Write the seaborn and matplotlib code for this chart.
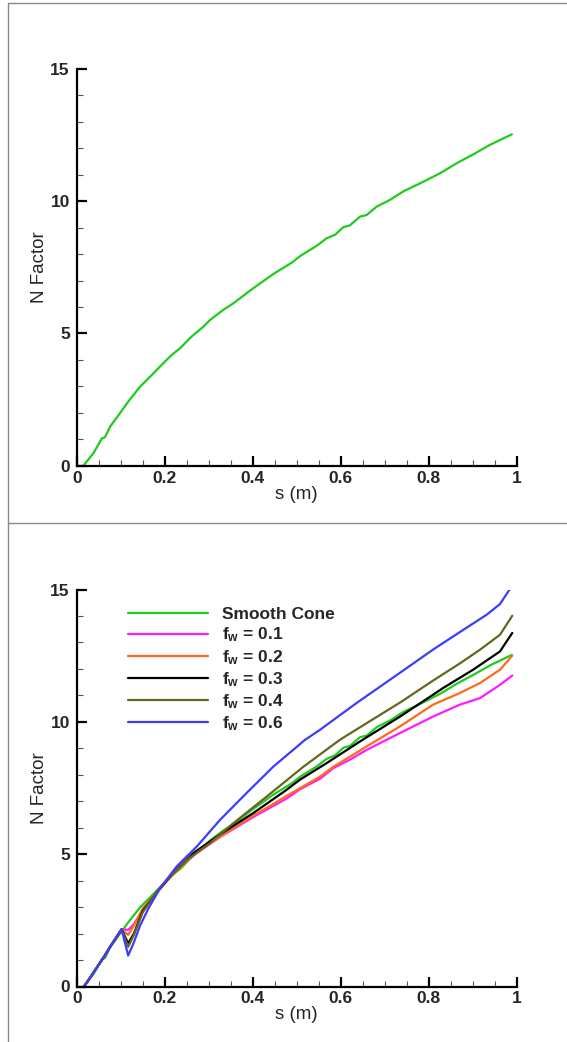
import numpy as np
import pandas as pd
import matplotlib
matplotlib.use("Agg")
import matplotlib.pyplot as plt
from matplotlib.lines import Line2D
from matplotlib.ticker import MultipleLocator
import seaborn as sns

# ---------------- data ----------------
smooth_s = [0.015, 0.038, 0.057, 0.064, 0.076, 0.098, 0.117, 0.144, 0.167, 0.200,
            0.216, 0.235, 0.261, 0.288, 0.303, 0.333, 0.356, 0.398, 0.447, 0.489,
            0.508, 0.545, 0.568, 0.587, 0.606, 0.621, 0.644, 0.659, 0.682, 0.712,
            0.742, 0.788, 0.826, 0.864, 0.902, 0.939, 0.989]
smooth_n = [0.0, 0.47, 1.03, 1.07, 1.48, 1.98, 2.42, 2.99, 3.37, 3.93,
            4.19, 4.44, 4.88, 5.26, 5.51, 5.89, 6.14, 6.67, 7.25, 7.68,
            7.93, 8.31, 8.60, 8.73, 9.02, 9.09, 9.42, 9.48, 9.80, 10.05,
            10.37, 10.74, 11.06, 11.44, 11.78, 12.13, 12.53]

fw01_s = [0.017, 0.060, 0.076, 0.102, 0.117, 0.130, 0.150, 0.185, 0.220, 0.265, 0.326,
          0.401, 0.477, 0.507, 0.553, 0.583, 0.621, 0.659, 0.735, 0.810, 0.871, 0.917,
          0.962, 0.990]
fw01_n = [0.0, 1.07, 1.50, 2.16, 2.14, 2.35, 2.90, 3.60, 4.30, 4.95, 5.65,
          6.40, 7.10, 7.45, 7.85, 8.25, 8.57, 8.94, 9.58, 10.20, 10.65, 10.90,
          11.40, 11.75]

fw02_s = [0.017, 0.060, 0.076, 0.102, 0.117, 0.130, 0.150, 0.185, 0.220, 0.265, 0.326,
          0.401, 0.477, 0.553, 0.583, 0.659, 0.735, 0.810, 0.871, 0.917, 0.962, 0.990]
fw02_n = [0.0, 1.07, 1.50, 2.16, 1.95, 2.30, 2.95, 3.62, 4.25, 4.97, 5.67,
          6.45, 7.20, 7.93, 8.30, 9.07, 9.83, 10.65, 11.09, 11.47, 11.97, 12.50]

fw03_s = [0.017, 0.060, 0.076, 0.102, 0.117, 0.130, 0.150, 0.185, 0.220, 0.265, 0.326,
          0.401, 0.477, 0.507, 0.568, 0.644, 0.735, 0.833, 0.901, 0.962, 0.990]
fw03_n = [0.0, 1.07, 1.50, 2.16, 1.63, 2.00, 2.85, 3.62, 4.30, 5.04, 5.75,
          6.55, 7.43, 7.81, 8.44, 9.26, 10.20, 11.28, 11.97, 12.66, 13.36]

fw04_s = [0.017, 0.060, 0.076, 0.102, 0.117, 0.130, 0.150, 0.185, 0.205, 0.250, 0.303,
          0.356, 0.432, 0.515, 0.598, 0.659, 0.735, 0.811, 0.872, 0.917, 0.962, 0.990]
fw04_n = [0.0, 1.07, 1.50, 2.16, 1.50, 1.95, 2.80, 3.65, 4.03, 4.78, 5.42,
          6.17, 7.18, 8.30, 9.32, 9.95, 10.73, 11.57, 12.22, 12.73, 13.29, 14.01]

fw06_s = [0.017, 0.060, 0.076, 0.102, 0.117, 0.129, 0.144, 0.163, 0.189, 0.227, 0.273,
          0.326, 0.386, 0.447, 0.519, 0.553, 0.636, 0.712, 0.810, 0.879, 0.932, 0.962,
          0.985]
fw06_n = [0.0, 1.07, 1.50, 2.16, 1.17, 1.63, 2.30, 2.95, 3.70, 4.53, 5.29,
          6.30, 7.31, 8.31, 9.32, 9.70, 10.71, 11.59, 12.73, 13.48, 14.05, 14.45,
          15.03]

labels = ["Smooth Cone", "f$_\\mathregular{w}$ = 0.1", "f$_\\mathregular{w}$ = 0.2",
          "f$_\\mathregular{w}$ = 0.3", "f$_\\mathregular{w}$ = 0.4", "f$_\\mathregular{w}$ = 0.6"]
colors = ["#1ecc1e", "#ff1aff", "#ff6a1a", "#000000", "#66661e", "#3c3cff"]

x_ticks = [0, 0.2, 0.4, 0.6, 0.8, 1]
x_ticklabels = ["0", "0.2", "0.4", "0.6", "0.8", "1"]
y_ticks = [0, 5, 10, 15]
y_ticklabels = ["0", "5", "10", "15"]

# ---------------- style ----------------
sns.set_style("ticks")
plt.rcParams["font.family"] = ["Liberation Sans", "DejaVu Sans"]
plt.rcParams["mathtext.default"] = "regular"

W, H = 567, 1042
fig = plt.figure(figsize=(W / 100, H / 100), dpi=100)
fig.patch.set_facecolor("white")

def px_rect(left, top, right, bottom):
    return [left / W, 1 - bottom / H, (right - left) / W, (bottom - top) / H]

ax1 = fig.add_axes(px_rect(76.7, 69, 516.7, 465.7))
ax2 = fig.add_axes(px_rect(76.7, 589.5, 516.7, 986.5))

def style_axes(ax):
    ax.set_xlim(0, 1)
    ax.set_ylim(0, 15)
    ax.set_xticks(x_ticks)
    ax.set_xticklabels(x_ticklabels)
    ax.set_yticks(y_ticks)
    ax.set_yticklabels(y_ticklabels)
    ax.xaxis.set_minor_locator(MultipleLocator(0.05))
    ax.yaxis.set_minor_locator(MultipleLocator(1))
    for sp in ["top", "right"]:
        ax.spines[sp].set_visible(False)
    for sp in ["left", "bottom"]:
        ax.spines[sp].set_linewidth(1.6)
        ax.spines[sp].set_color("black")
    ax.tick_params(which="major", direction="in", length=7.5, width=1.6,
                   color="black", labelsize=12.5)
    ax.tick_params(axis="x", which="major", pad=3.5)
    ax.tick_params(axis="y", which="major", pad=5)
    ax.tick_params(which="minor", direction="in", length=4, width=0.8,
                   color="#555555")
    for lab in ax.get_xticklabels() + ax.get_yticklabels():
        lab.set_fontweight("bold")
    ax.set_xlabel("s (m)", fontsize=13.5, labelpad=0)
    ax.set_ylabel("N Factor", fontsize=13.5, labelpad=1.5)
    ax.set_facecolor("white")

# top panel
sns.lineplot(x=smooth_s, y=smooth_n, ax=ax1, color=colors[0], linewidth=1.6,
             sort=False, legend=False)
style_axes(ax1)

# bottom panel
series = [(smooth_s, smooth_n), (fw01_s, fw01_n), (fw02_s, fw02_n),
          (fw03_s, fw03_n), (fw04_s, fw04_n), (fw06_s, fw06_n)]
for (s, n), lab, c in zip(series, labels, colors):
    sns.lineplot(x=s, y=n, ax=ax2, color=c, linewidth=1.6, label=lab, sort=False)
style_axes(ax2)
leg = ax2.legend(loc="upper left", bbox_to_anchor=(0.082, 0.995), frameon=False,
                 handlelength=4.6, handletextpad=0.8, labelspacing=0.2,
                 prop={"size": 12.5, "weight": "bold"})

# frame lines of the page
gray = "#888888"
fig.add_artist(Line2D([8 / W, 8 / W], [0, 1 - 3 / H], transform=fig.transFigure,
                      color=gray, linewidth=1.0))
fig.add_artist(Line2D([8 / W, 1], [1 - 3 / H, 1 - 3 / H], transform=fig.transFigure,
                      color=gray, linewidth=1.0))
fig.add_artist(Line2D([8 / W, 1], [1 - 523 / H, 1 - 523 / H], transform=fig.transFigure,
                      color=gray, linewidth=1.0))

fig.savefig("out.png", dpi=100, facecolor="white")
